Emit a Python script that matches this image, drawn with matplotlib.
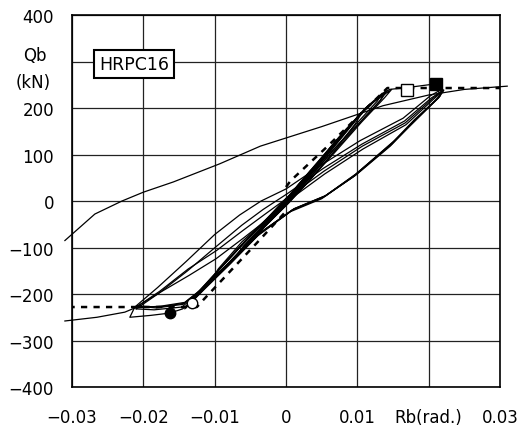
import numpy as np
import matplotlib
matplotlib.use("Agg")
import matplotlib.pyplot as plt

plt.rcParams['font.family'] = ['DejaVu Sans']

# ---- data (Rb in rad, Qb in kN) ----
# small cycles, +-0.0035
a1_rb = [0.0, 0.0015, 0.0035, 0.0028, 0.0012, -0.0008, -0.0035, -0.0028, -0.0012, 0.0005]
a1_qb = [0, 30, 66, 52, 22, -18, -58, -44, -18, 12]
a2_rb = [0.0005, 0.002, 0.0036, 0.0029, 0.001, -0.001, -0.0036, -0.0027, -0.001, 0.0004]
a2_qb = [12, 40, 67, 50, 16, -22, -60, -42, -14, 10]
# cycles +-0.007
a3_rb = [0.0004, 0.003, 0.0055, 0.0071, 0.006, 0.0035, 0.001, -0.002, -0.0045, -0.0071, -0.006, -0.0035, -0.001, 0.0008]
a3_qb = [10, 58, 102, 132, 110, 62, 14, -36, -76, -120, -98, -58, -16, 14]
a4_rb = [0.0008, 0.003, 0.0055, 0.0072, 0.0061, 0.0034, 0.0008, -0.002, -0.0046, -0.0072, -0.0059, -0.0033, -0.0008, 0.001]
a4_qb = [14, 56, 100, 130, 106, 56, 8, -40, -80, -122, -96, -54, -12, 16]
# cycles +-0.0105
a5_rb = [0.001, 0.004, 0.0075, 0.0105, 0.0095, 0.0065, 0.003, 0.0005, -0.003, -0.0065, -0.0105, -0.0094, -0.006, -0.003, -0.0005, 0.001]
a5_qb = [16, 70, 135, 190, 168, 112, 48, 4, -52, -108, -172, -148, -92, -46, -6, 16]
a6_rb = [0.001, 0.0042, 0.0078, 0.0107, 0.0097, 0.0068, 0.0032, 0.0004, -0.0032, -0.0068, -0.0107, -0.0095, -0.0062, -0.0028, -0.0004, 0.0012]
a6_qb = [16, 72, 138, 192, 166, 108, 42, -2, -58, -114, -176, -146, -88, -40, -2, 20]
# cycles +-0.0135
a7_rb = [0.0012, 0.004, 0.008, 0.011, 0.0135, 0.0128, 0.0098, 0.006, 0.0025, 0.0, -0.004, -0.008, -0.0112, -0.0135, -0.0128, -0.0095, -0.006, -0.003, 0.0]
a7_qb = [20, 72, 145, 198, 232, 215, 165, 98, 35, -8, -70, -135, -185, -222, -205, -150, -92, -44, 4]
a8_rb = [0.0, 0.0038, 0.0078, 0.0112, 0.0142, 0.0133, 0.0102, 0.0064, 0.0028, 0.0002, -0.0038, -0.0078, -0.0114, -0.0142, -0.0132, -0.0098, -0.0062, -0.0028, 0.0004]
a8_qb = [4, 70, 142, 200, 238, 218, 166, 100, 36, -6, -68, -132, -186, -232, -210, -154, -94, -42, 10]
a9_rb = [0.0004, 0.0042, 0.0082, 0.0115, 0.0148, 0.0138, 0.0106, 0.0068, 0.003, 0.0004, -0.0036, -0.0076, -0.0112, -0.0138, -0.0126, -0.0094, -0.0058, -0.0026, 0.0002]
a9_qb = [10, 76, 148, 205, 240, 222, 170, 104, 40, -4, -64, -128, -182, -226, -204, -148, -88, -38, 8]
a10_rb = [0.0002, 0.0036, 0.0074, 0.011, 0.0139, 0.0131, 0.0104, 0.0066, 0.0032, 0.0006, -0.0034, -0.0072, -0.0108, -0.0136, -0.0124, -0.009, -0.0054, -0.0022, 0.0]
a10_qb = [6, 66, 136, 194, 236, 214, 170, 110, 48, 4, -58, -120, -176, -220, -198, -140, -80, -30, 6]
# first push beyond and +-0.021 cycles
b1_rb = [0.0002, 0.004, 0.008, 0.0115, 0.0145, 0.017, 0.021, 0.0216, 0.018, 0.015, 0.0094, 0.005, 0.0006, -0.004, -0.008, -0.012, -0.0145, -0.0163, -0.019, -0.0219, -0.0212]
b1_qb = [8, 76, 148, 205, 240, 244, 252, 226, 175, 127, 52, 5, -23, -75, -138, -198, -232, -241, -246, -250, -228]
b2_rb = [-0.0212, -0.018, -0.014, -0.010, -0.0065, -0.0035, 0.0, 0.005, 0.0104, 0.0164, 0.0202, 0.0219, 0.0214, 0.0178, 0.0148, 0.0096, 0.0052, 0.0008, -0.0038, -0.0078, -0.0118, -0.0146, -0.0185, -0.021]
b2_qb = [-228, -186, -130, -72, -30, 0, 26, 78, 130, 178, 226, 241, 222, 170, 122, 54, 8, -20, -72, -134, -192, -228, -234, -232]
b3_rb = [-0.021, -0.0178, -0.0138, -0.0098, -0.0062, -0.0032, 0.0002, 0.0052, 0.0106, 0.0166, 0.0204, 0.022, 0.0212, 0.0176, 0.0146, 0.0098, 0.0054, 0.001, -0.0036, -0.0076, -0.0116, -0.0144, -0.0182, -0.0208]
b3_qb = [-232, -198, -150, -98, -52, -18, 16, 70, 122, 172, 222, 238, 220, 166, 118, 56, 10, -18, -68, -128, -188, -222, -230, -226]
b5_rb = [-0.0208, -0.0177, -0.0137, -0.0097, -0.0061, -0.0031, 0.0003, 0.0053, 0.0107, 0.0167, 0.0205, 0.0221, 0.0213, 0.0178, 0.0149, 0.0097, 0.0055, 0.0011, -0.0035, -0.0075, -0.0115, -0.0143, -0.0178, -0.0208]
b5_qb = [-226, -194, -146, -106, -64, -30, 8, 64, 118, 168, 220, 239, 222, 168, 124, 57, 11, -17, -67, -126, -186, -220, -228, -226]
b4_rb = [-0.0208, -0.0176, -0.0136, -0.0098, -0.006, -0.003, 0.0004, 0.0054, 0.0108, 0.0168, 0.0206, 0.0221, 0.0215, 0.018, 0.0152, 0.0098, 0.0056, 0.0012, -0.0034, -0.0074, -0.0114, -0.0142, -0.0175, -0.0212, -0.0226, -0.0265, -0.031]
b4_qb = [-226, -196, -160, -124, -80, -44, 2, 58, 112, 164, 218, 238, 224, 172, 130, 58, 12, -16, -66, -124, -184, -218, -226, -230, -239, -250, -258]
# final excursion back from -0.03 to +0.03
fin_rb = [-0.031, -0.0268, -0.023, -0.02, -0.0158, -0.0093, -0.0036, 0.005, 0.0136, 0.02, 0.025, 0.031]
fin_qb = [-85, -28, 0, 19, 41, 80, 118, 160, 205, 228, 240, 247]
# dashed skeleton curves
env_neg_rb = [-0.0305, -0.0125, -0.0115, -0.0036, 0.0]
env_neg_qb = [-228, -228, -211, -82, -22]
env_pos_rb = [0.0, 0.0006, 0.0057, 0.0142, 0.03]
env_pos_qb = [30, 43, 116, 243, 243]
# marked points
pos_max_rb, pos_max_qb = 0.021, 252
pos_y_rb, pos_y_qb = 0.017, 239
neg_max_rb, neg_max_qb = -0.0163, -241
neg_y_rb, neg_y_qb = -0.0132, -219

xticks = [-0.03, -0.02, -0.01, 0, 0.01, 0.02, 0.03]
xlabels = ['\u22120.03', '\u22120.02', '\u22120.01', '0', '0.01', 'Rb(rad.)', '0.03']
yticks = [-400, -300, -200, -100, 0, 100, 200, 300, 400]
ylabels = ['\u2212400', '\u2212300', '\u2212200', '\u2212100', '0', '100', '200', '', '400']

fig = plt.figure(figsize=(5.22, 4.27), dpi=100)
ax = fig.add_axes([0.138, 0.0913, 0.82, 0.8712])

loops = [(a1_rb, a1_qb), (a2_rb, a2_qb), (a3_rb, a3_qb), (a4_rb, a4_qb),
         (a5_rb, a5_qb), (a6_rb, a6_qb), (a7_rb, a7_qb), (a8_rb, a8_qb),
         (a9_rb, a9_qb), (a10_rb, a10_qb), (b1_rb, b1_qb), (b2_rb, b2_qb),
         (b3_rb, b3_qb), (b5_rb, b5_qb), (b4_rb, b4_qb), (fin_rb, fin_qb)]
for rb, qb in loops:
    ax.plot(rb, qb, color='black', lw=0.9, clip_on=False, zorder=3)

for rb, qb in [(env_neg_rb, env_neg_qb), (env_pos_rb, env_pos_qb)]:
    ax.plot(rb, qb, color='black', lw=1.8, ls=(0, (2.5, 2.5)), zorder=4)

ax.plot(pos_max_rb, pos_max_qb, 's', ms=8.5, mfc='black', mec='black', zorder=5)
ax.plot(pos_y_rb, pos_y_qb, 's', ms=8, mfc='white', mec='black', mew=1, zorder=5)
ax.plot(neg_max_rb, neg_max_qb, 'o', ms=7.5, mfc='black', mec='black', zorder=5)
ax.plot(neg_y_rb, neg_y_qb, 'o', ms=7.5, mfc='white', mec='black', mew=1, zorder=5)

ax.set_xlim(-0.03, 0.03)
ax.set_ylim(-400, 400)
ax.set_xticks(xticks)
ax.set_xticklabels(xlabels)
ax.set_yticks(yticks)
ax.set_yticklabels(ylabels)
ax.tick_params(axis='both', length=0, labelsize=12)
ax.tick_params(axis='x', pad=15)
ax.tick_params(axis='y', pad=13)
ax.grid(True, color='#222222', lw=0.9, zorder=1)
ax.set_axisbelow(True)
for s in ax.spines.values():
    s.set_linewidth(1.2)
    s.set_color('black')

ax.text(-0.0352, 294, 'Qb', ha='center', va='bottom', fontsize=12)
ax.text(-0.0355, 276, '(kN)', ha='center', va='top', fontsize=12)
ax.text(0.145, 0.868, 'HRPC16', transform=ax.transAxes, ha='center', va='center', fontsize=12.5,
        bbox=dict(boxstyle='square,pad=0.3', fc='white', ec='black', lw=1.5), zorder=6)

fig.savefig('out.png', dpi=100)
